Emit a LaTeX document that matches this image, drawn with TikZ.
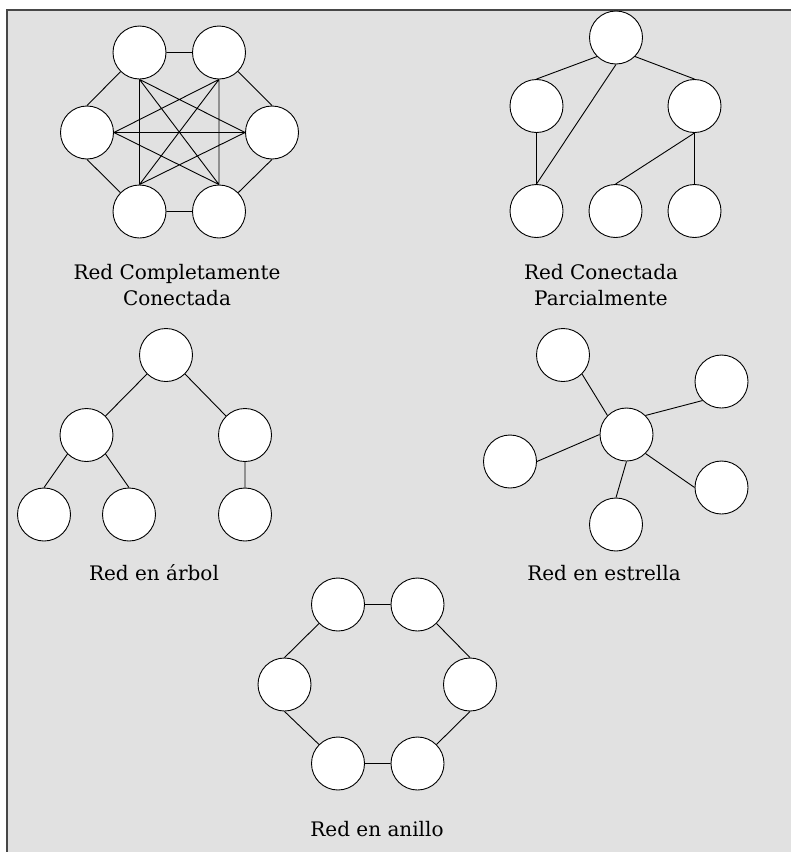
\documentclass[tikz,border=0pt]{standalone}
\usepackage{fontspec}
\setmainfont{DejaVu Serif}
\definecolor{panelgray}{HTML}{E1E1E1}
\definecolor{framegray}{HTML}{474747}
\begin{document}
\begin{tikzpicture}[x=1pt,y=-1pt,
  nd/.style={circle,draw=black,fill=white,line width=0.9pt,minimum size=53pt,inner sep=0pt},
  link/.style={draw=black,line width=0.9pt},
  caption/.style={font=\fontsize{20}{26.5}\selectfont,align=center,text=black,inner sep=0pt}]
\useasboundingbox (0,0) rectangle (791,852);
% panel and its frame (top and left edges only)
\fill[panelgray] (7,10) rectangle (791,852);
\draw[framegray,line width=1.6pt] (7,852) -- (7,10) -- (791,10);

% ---- fully connected network ----
\node[nd] (k1) at (139.5,52.5) {};
\node[nd] (k2) at (219,52.5) {};
\node[nd] (k3) at (87,132.5) {};
\node[nd] (k4) at (272,132.5) {};
\node[nd] (k5) at (139.5,211.5) {};
\node[nd] (k6) at (219,211.5) {};
\path[link] (k1) -- (k2)
  (k3.north) -- (k1) (k2) -- (k4.north)
  (k3.south) -- (k5) (k6) -- (k4.south)
  (k5) -- (k6)
  (k1.south) -- (k5.north) (k1.south) -- (k6.north) (k1.south) -- (k4.west)
  (k2.south) -- (k6.north) (k2.south) -- (k5.north) (k2.south) -- (k3.east)
  (k3.east) -- (k4.west) (k3.east) -- (k6.north) (k4.west) -- (k5.north);
\node[caption] (kcap) at (177,285) {Red Completamente\\Conectada};

% ---- partially connected network ----
\node[nd] (p1) at (616,37.5) {};
\node[nd] (p2) at (536.5,106) {};
\node[nd] (p3) at (694.5,106) {};
\node[nd] (p4) at (536.5,211) {};
\node[nd] (p5) at (615.5,211) {};
\node[nd] (p6) at (694.5,211) {};
\path[link] (p2.north) -- (p1.south west)
  (p1.south east) -- (p3.north)
  (p1.south) -- (p4.north)
  (p2.south) -- (p4.north)
  (p3.south) -- (p5.north)
  (p3.south) -- (p6.north);
\node[caption] (pcap) at (601,285) {Red Conectada\\Parcialmente};

% ---- tree ----
\node[nd] (t1) at (166,355) {};
\node[nd] (t2) at (86.5,435) {};
\node[nd] (t3) at (245,435) {};
\node[nd] (t4) at (44,514.5) {};
\node[nd] (t5) at (129,514.5) {};
\node[nd] (t6) at (245,514.5) {};
\path[link] (t1.south west) -- (t2.north east)
  (t1.south east) -- (t3.north west)
  (t2.south west) -- (t4.north)
  (t2.south east) -- (t5.north)
  (t3.south) -- (t6.north);
\node[caption] (tcap) at (154,573) {Red en árbol};

% ---- star ----
\node[nd] (s0) at (626.5,434.5) {};
\node[nd] (s1) at (563,355) {};
\node[nd] (s2) at (721.5,381.5) {};
\node[nd] (s3) at (510,461.5) {};
\node[nd] (s4) at (616,524.5) {};
\node[nd] (s5) at (721.5,487.5) {};
\path[link] (s1.south east) -- (s0.north west)
  (s0.north east) -- (s2.south west)
  (s3.east) -- (s0.west)
  (s0.south) -- (s4.north)
  (s0.south east) -- (s5.west);
\node[caption] (scap) at (604,573) {Red en estrella};

% ---- ring ----
\node[nd] (r1) at (338,604.5) {};
\node[nd] (r2) at (417.5,604.5) {};
\node[nd] (r3) at (284.5,684.5) {};
\node[nd] (r4) at (470,684.5) {};
\node[nd] (r5) at (338,763.5) {};
\node[nd] (r6) at (417.5,763.5) {};
\path[link] (r1) -- (r2)
  (r3.north) -- (r1.south west)
  (r2.south east) -- (r4.north)
  (r3.south) -- (r5.north west)
  (r6.north east) -- (r4.south)
  (r5) -- (r6);
\node[caption] (rcap) at (377,829) {Red en anillo};
\end{tikzpicture}
\end{document}
